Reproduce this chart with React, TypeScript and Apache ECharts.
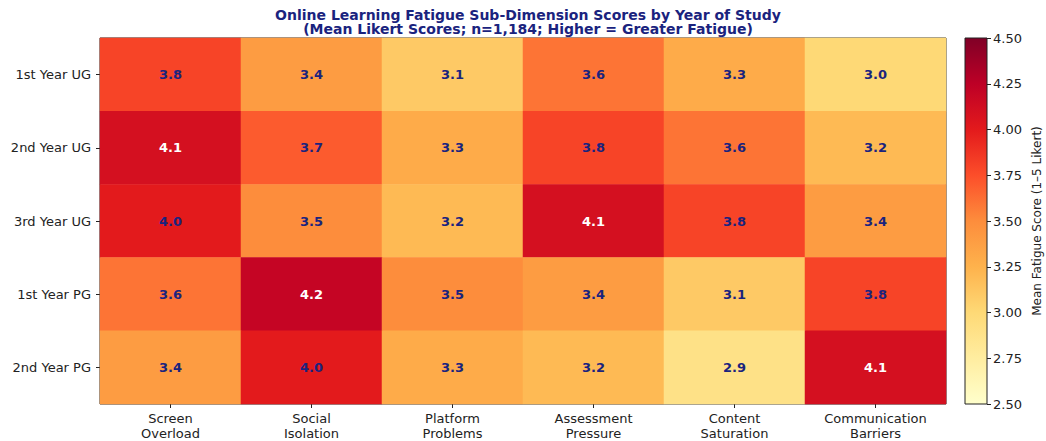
import React, { useEffect, useRef } from "react";
import * as echarts from "echarts";

const years = ["1st Year UG", "2nd Year UG", "3rd Year UG", "1st Year PG", "2nd Year PG"];
const dimensions = [
  "Screen\nOverload",
  "Social\nIsolation",
  "Platform\nProblems",
  "Assessment\nPressure",
  "Content\nSaturation",
  "Communication\nBarriers",
];
const row1stUG = [3.8, 3.4, 3.1, 3.6, 3.3, 3.0];
const row2ndUG = [4.1, 3.7, 3.3, 3.8, 3.6, 3.2];
const row3rdUG = [4.0, 3.5, 3.2, 4.1, 3.8, 3.4];
const row1stPG = [3.6, 4.2, 3.5, 3.4, 3.1, 3.8];
const row2ndPG = [3.4, 4.0, 3.3, 3.2, 2.9, 4.1];
const rows = [row1stUG, row2ndUG, row3rdUG, row1stPG, row2ndPG];

const scaleMin = 2.5;
const scaleMax = 4.5;
const scaleStep = 0.25;

const ylOrRd = ["#ffffcc", "#ffeda0", "#fed976", "#feb24c", "#fd8d3c", "#fc4e2a", "#e31a1c", "#bd0026", "#800026"];
const navy = "#1a237e";
const font = "DejaVu Sans";

export default function App() {
  const ref = useRef<HTMLDivElement>(null);
  useEffect(() => {
    const chart = echarts.init(ref.current!, null, { renderer: "svg" });
    const data: any[] = [];
    rows.forEach((r, yi) =>
      r.forEach((v, xi) =>
        data.push({ value: [xi, yi, v], label: { color: v > 4.05 ? "#ffffff" : navy } })
      )
    );

    const gl = 100, gt = 38, gw = 846, gh = 366;
    const cbL = 965, cbW = 22;

    chart.setOption({
      animation: false,
      backgroundColor: "#ffffff",
      title: {
        text: "Online Learning Fatigue Sub-Dimension Scores by Year of Study\n(Mean Likert Scores; n=1,184; Higher = Greater Fatigue)",
        left: gl + gw / 2,
        textAlign: "center",
        top: 3,
        textStyle: { fontFamily: font, fontSize: 14, fontWeight: "bold", color: navy, lineHeight: 14 },
      },
      grid: [
        { left: gl, top: gt, width: gw, height: gh, show: true, borderColor: "#222", borderWidth: 1, backgroundColor: "transparent", outerBoundsMode: "none", containLabel: false },
        { left: cbL, top: gt, width: cbW, height: gh, show: false, outerBoundsMode: "none", containLabel: false },
      ],
      xAxis: [
        {
          type: "category",
          gridIndex: 0,
          data: dimensions,
          axisLine: { show: false },
          axisTick: { show: true, alignWithLabel: true, length: 4, lineStyle: { color: "#222" } },
          axisLabel: { fontFamily: font, fontSize: 13, color: "#222", lineHeight: 15, margin: 7 },
          splitLine: { show: false },
        },
        { type: "value", gridIndex: 1, show: false, min: 0, max: 1 },
      ],
      yAxis: [
        {
          type: "category",
          gridIndex: 0,
          data: years,
          inverse: true,
          axisLine: { show: false },
          axisTick: { show: true, alignWithLabel: true, length: 4, lineStyle: { color: "#222" } },
          axisLabel: { fontFamily: font, fontSize: 13, color: "#222", margin: 9 },
          splitLine: { show: false },
        },
        {
          type: "value",
          gridIndex: 1,
          position: "right",
          min: scaleMin,
          max: scaleMax,
          interval: scaleStep,
          axisLine: { show: false, onZero: false },
          axisTick: { show: true, length: 4, lineStyle: { color: "#222" } },
          axisLabel: { fontFamily: font, fontSize: 13, color: "#222", margin: 6, formatter: (v: number) => v.toFixed(2) },
          splitLine: { show: false },
          name: "Mean Fatigue Score (1–5 Likert)",
          nameLocation: "middle",
          nameRotate: 90,
          nameGap: 44,
          nameTextStyle: { fontFamily: font, fontSize: 12, color: "#222" },
        },
      ],
      visualMap: {
        show: false,
        type: "continuous",
        min: scaleMin,
        max: scaleMax,
        dimension: 2,
        seriesIndex: 0,
        inRange: { color: ylOrRd },
      },
      graphic: [
        {
          type: "rect",
          shape: { x: cbL, y: gt, width: cbW, height: gh },
          style: {
            fill: new echarts.graphic.LinearGradient(0, 1, 0, 0, ylOrRd.map((c, i) => ({ offset: i / (ylOrRd.length - 1), color: c }))),
            stroke: "#222",
            lineWidth: 1,
          },
          z: 10,
        },
      ],
      series: [
        {
          type: "heatmap",
          xAxisIndex: 0,
          yAxisIndex: 0,
          data,
          label: {
            show: true,
            fontFamily: font,
            fontSize: 13,
            fontWeight: "bold",
            formatter: (p: any) => p.value[2].toFixed(1),
            color: navy,
          },
          itemStyle: { borderWidth: 0 },
          emphasis: { disabled: true },
        },
      ],
    });

    return () => chart.dispose();
  }, []);
  return <div ref={ref} style={{ position: "absolute", left: 0, top: 0, width: 1046, height: 441 }} />;
}
